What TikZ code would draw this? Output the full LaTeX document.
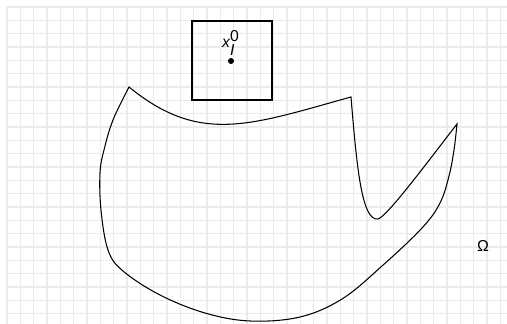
\documentclass[tikz,border=0pt]{standalone}
\usepackage{fontspec}
\setmainfont{Liberation Sans}
\usetikzlibrary{positioning}

\tikzset{
  gridline/.style={draw=black!8, line width=0.6pt},
  outline/.style={draw=black, line width=0.6pt},
  label/.style={font=\fontsize{9}{11}\selectfont, inner sep=1pt}
}

\begin{document}
\begin{tikzpicture}[x=0.02cm, y=-0.02cm]
\useasboundingbox (0,0) rectangle (507,324);

% background grid
\foreach \i in {0,...,37}
  \draw[gridline] (7+13.333*\i,7) -- (7+13.333*\i,324);
\foreach \j in {0,...,23}
  \draw[gridline] (7,7+13.333*\j) -- (507,7+13.333*\j);

% domain
\draw[outline, line join=miter]
  (129,87) .. controls (200,145) and (250,125) .. (351,97)
  .. controls (357,170) and (362,221) .. (378,219)
  .. controls (387,216) and (420,172) .. (457,124)
  -- plot[smooth, tension=0.6] coordinates {(457,124) (454,150) (449,176) (440,203) (422,228) (382,266) (342,299) (300,317) (250,321) (205,313) (160,295) (123,271) (108,250) (101,210) (100,173) (104,150) (113,120) (129,87)}
  -- cycle;

% reference cell
\node[outline, minimum width=1.6cm, minimum height=1.58cm, inner sep=0pt] (cell) at (232,60.5) {};
\node[circle, fill=black, inner sep=0pt, minimum size=0.12cm] (dot) at (231,61) {};
\node[label, above=0.3pt of dot] (xlab) {$\textit{x}_{\textit{I}}^{\textup{0}}$};

\node[label] (omega) at (483,246) {Ω};
\end{tikzpicture}
\end{document}
